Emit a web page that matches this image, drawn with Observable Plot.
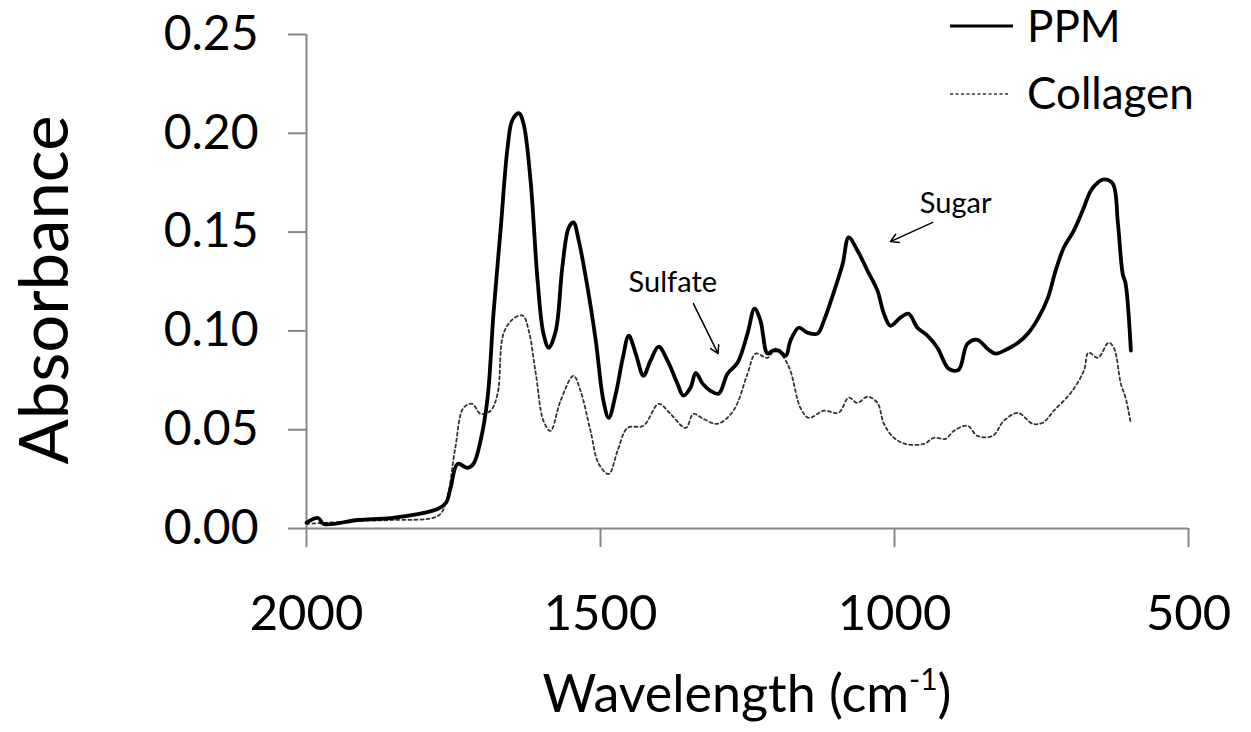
<!DOCTYPE html>
<html><head><meta charset="utf-8">
<script src="https://cdn.jsdelivr.net/npm/d3@7"></script>
<script src="https://cdn.jsdelivr.net/npm/@observablehq/plot@0.6"></script>
<style>body{margin:0;background:#fff;} #chart svg{font-family:Lato, sans-serif;}</style>
</head><body><div id="chart"></div>
<script>
// ---- Data ----
const ppmWavenumber = [2000,1980,1971,1913,1857,1811,1777,1763,1755,1743,1726,1716,1704,1692,1682,1670,1658,1650,1639,1631,1619,1607,1597,1588,1576,1565,1554,1546,1537,1522,1508,1495,1486,1474,1462,1452,1440,1427,1415,1401,1386,1369,1359,1347,1338,1326,1313,1299,1284,1267,1250,1238,1228,1216,1207,1197,1185,1177,1163,1148,1131,1120,1104,1088,1078,1063,1046,1029,1018,1007,990,976,961,944,927,908,891,876,859,842,828,807,790,772,755,739,726,712,695,680,666,654,644,629,620,612,607,598];
const ppmAbsorbance = [0.003,0.0053,0.0023,0.0043,0.0053,0.0073,0.0099,0.0129,0.0205,0.0327,0.0307,0.0327,0.0444,0.0662,0.1088,0.1508,0.1929,0.2066,0.2102,0.2050,0.1762,0.1255,0.0986,0.0915,0.1001,0.1320,0.1523,0.1549,0.1457,0.1219,0.0950,0.0646,0.0560,0.0682,0.0864,0.0976,0.0884,0.0773,0.0849,0.0920,0.0849,0.0732,0.0672,0.0712,0.0788,0.0732,0.0697,0.0682,0.0783,0.0839,0.0986,0.1113,0.1052,0.0885,0.0900,0.0900,0.0874,0.0950,0.1016,0.0991,0.0986,0.1052,0.1189,0.1341,0.1473,0.1407,0.1305,0.1204,0.1087,0.1026,0.1067,0.1087,0.1016,0.0976,0.0915,0.0809,0.0803,0.0935,0.0955,0.0910,0.0885,0.0910,0.0940,0.0991,0.1067,0.1168,0.1305,0.1422,0.1508,0.1609,0.1711,0.1751,0.1767,0.1746,0.1543,0.1290,0.1239,0.0900];

const collagenWavenumber = [2000,1913,1857,1777,1763,1747,1733,1718,1704,1687,1675,1665,1648,1632,1622,1610,1597,1585,1568,1546,1534,1517,1503,1486,1471,1454,1427,1401,1381,1355,1342,1325,1301,1274,1250,1236,1216,1202,1188,1177,1160,1146,1120,1095,1078,1063,1046,1029,1018,1001,981,950,933,913,899,876,859,833,814,790,765,748,729,700,678,670,654,636,627,615,607,598];
const collagenAbsorbance = [0.0023,0.0038,0.0043,0.0063,0.0129,0.0408,0.0611,0.0631,0.0580,0.0596,0.0682,0.0986,0.1062,0.1077,0.1001,0.0783,0.0545,0.0494,0.0646,0.0773,0.0697,0.0494,0.0327,0.0276,0.0393,0.0509,0.0520,0.0631,0.0580,0.0509,0.0580,0.0555,0.0530,0.0596,0.0783,0.0885,0.0864,0.0910,0.0864,0.0798,0.0611,0.0560,0.0596,0.0586,0.0662,0.0636,0.0667,0.0636,0.0530,0.0459,0.0428,0.0428,0.0459,0.0454,0.0494,0.0520,0.0469,0.0469,0.0545,0.0585,0.0530,0.0535,0.0596,0.0687,0.0798,0.0890,0.0864,0.0940,0.0915,0.0732,0.0662,0.0530];

const xTicks = [2000, 1500, 1000, 500];
const yTicks = [0, 0.05, 0.10, 0.15, 0.20, 0.25];
const seriesNames = ["PPM", "Collagen"];
const xTitle = "Wavelength (cm";
const xTitleSup = "-1";
const yTitle = "Absorbance";

const annotationLabels = ["Sulfate", "Sugar"];
const annotationTextX = [1377, 896];
const annotationTextY = [0.1244, 0.1645];
const arrowStartX = [1342, 935];
const arrowStartY = [0.1138, 0.1549];
const arrowEndX = [1300, 1007];
const arrowEndY = [0.0885, 0.1452];

// ---- Build tables ----
const ppm = ppmWavenumber.map((w, i) => ({wn: w, a: ppmAbsorbance[i]}));
const collagen = collagenWavenumber.map((w, i) => ({wn: w, a: collagenAbsorbance[i]}));
const notes = annotationLabels.map((t, i) => ({
  text: t, x: annotationTextX[i], y: annotationTextY[i],
  x1: arrowStartX[i], y1: arrowStartY[i], x2: arrowEndX[i], y2: arrowEndY[i]
}));

const axisGray = "#868686";

const plot = Plot.plot({
  width: 1251,
  height: 732,
  marginLeft: 306,
  marginRight: 63,
  marginTop: 34,
  marginBottom: 204,
  style: {fontFamily: "Lato, sans-serif", background: "white", color: "black"},
  x: {domain: [2000, 500]},
  y: {domain: [0, 0.25]},
  marks: [
    Plot.axisY(yTicks, {tickSize: 18, tickPadding: 30, fontSize: 48, tickFormat: d => d.toFixed(2),
      stroke: axisGray, strokeWidth: 2, fill: "black", label: null}),
    Plot.axisX(xTicks, {tickSize: 19, tickPadding: 48, fontSize: 49, tickFormat: d => String(d),
      stroke: axisGray, strokeWidth: 2, fill: "black", label: null}),
    Plot.ruleX([2000], {stroke: axisGray, strokeWidth: 2}),
    Plot.ruleY([0], {stroke: axisGray, strokeWidth: 2}),
    Plot.line(collagen, {x: "wn", y: "a", stroke: "#333", strokeWidth: 1.8, strokeDasharray: "3,3", curve: "catmull-rom"}),
    Plot.line(ppm, {x: "wn", y: "a", stroke: "black", strokeWidth: 3.8, curve: "catmull-rom"}),
    Plot.text(notes, {x: "x", y: "y", text: "text", fontSize: 29, fill: "black", lineAnchor: "middle"}),
    Plot.arrow(notes, {x1: "x1", y1: "y1", x2: "x2", y2: "y2", stroke: "black", strokeWidth: 1.5, headLength: 9, insetStart: 0, insetEnd: 0})
  ]
});

const svg = d3.select(plot);
// X-axis title with superscript
const xt = svg.append("text").attr("x", 747).attr("y", 712).attr("text-anchor", "middle")
  .attr("font-size", 52).attr("font-family", "Lato, sans-serif").attr("fill", "black");
xt.append("tspan").text(xTitle);
xt.append("tspan").attr("font-size", 30).attr("dy", -22).text(xTitleSup);
xt.append("tspan").attr("dy", 22).text(")");
// Y-axis title
svg.append("text").attr("transform", "translate(68,290) rotate(-90)").attr("text-anchor", "middle")
  .attr("font-size", 67).attr("font-family", "Lato, sans-serif").attr("fill", "black").text(yTitle);
// Legend
const lg = svg.append("g").attr("font-family", "Lato, sans-serif").attr("font-size", 44).attr("fill", "black").attr("text-anchor", "start");
lg.append("line").attr("x1", 950).attr("x2", 1013).attr("y1", 26).attr("y2", 26).attr("stroke", "black").attr("stroke-width", 3);
lg.append("text").attr("x", 1027).attr("y", 42).attr("text-anchor", "start").text(seriesNames[0]);
lg.append("line").attr("x1", 950).attr("x2", 1010).attr("y1", 94).attr("y2", 94).attr("stroke", "#333").attr("stroke-width", 1.5).attr("stroke-dasharray", "3,2.5");
lg.append("text").attr("x", 1027).attr("y", 109).attr("text-anchor", "start").text(seriesNames[1]);

document.getElementById("chart").appendChild(plot);
</script>
</body></html>
